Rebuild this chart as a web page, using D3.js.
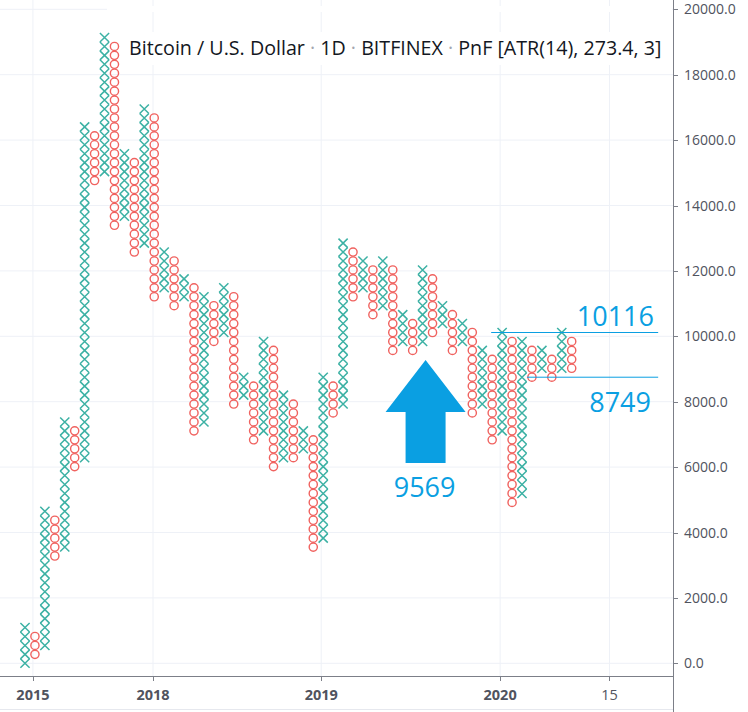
<!DOCTYPE html>
<html>
<head>
<meta charset="utf-8">
<script src="https://cdn.jsdelivr.net/npm/d3@7"></script>
<style>
  body { margin: 0; background: #fff; }
  svg { display: block; }
</style>
</head>
<body>
<svg id="pnf" width="748" height="712"></svg>
<script>
// Point & figure columns, in boxes of 273.4
const boxSize = 273.4;
const colTypes = ["X","O","X","O","X","O","X","O","X","O","X","O","X","O","X","O","X","O","X","O",
                  "X","O","X","O","X","O","X","O","X","O","X","O","X","O","X","O","X","O","X","O",
                  "X","O","X","O","X","O","X","O","X","O","X","O","X","O","X","O"];
const colHigh = [4,3,17,16,27,26,60,59,70,69,57,56,62,61,46,45,43,42,41,40,
                 42,41,32,31,36,35,30,29,26,25,32,31,47,46,45,44,45,44,39,38,
                 44,43,40,39,38,37,35,34,37,36,36,35,35,34,37,36];
const colLow  = [0,1,2,12,13,22,23,54,55,49,50,46,47,41,42,40,41,26,27,36,
                 37,29,30,25,26,22,23,23,24,13,14,28,29,41,42,39,40,35,36,35,
                 36,37,38,35,36,28,29,25,26,18,19,32,33,32,33,33];

// axis ticks
const priceTicks = [0, 2000, 4000, 6000, 8000, 10000, 12000, 14000, 16000, 18000, 20000];
const timeTickPos = [0.8, 12.88, 29.8, 47.8, 58.8];   // in column units
const timeTickLabels = ["2015", "2018", "2019", "2020", "15"];

// annotations
const levelValues = [10116, 8749];
const arrowValue = 9569;
const title = ["Bitcoin / U.S. Dollar", "1D", "BITFINEX", "PnF [ATR(14), 273.4, 3]"];

const svg = d3.select("#pnf");
const plotRight = 673, axisY = 676;

const x = d3.scaleLinear().domain([0, 55]).range([25, 571.7]);
const y = d3.scaleLinear().domain([0, 20000]).range([663.3, 9.3]);

const blue = "#0a9fe2";
const gridColor = "#eef1f7";
const axisColor = "#7c7f88";
const textColor = "#50535e";

// grid
svg.append("g").selectAll("line")
  .data(priceTicks).join("line")
  .attr("x1", 0).attr("x2", plotRight)
  .attr("y1", d => y(d)).attr("y2", d => y(d))
  .attr("stroke", gridColor).attr("stroke-width", 1);

svg.append("g").selectAll("line")
  .data(timeTickPos).join("line")
  .attr("x1", d => x(d)).attr("x2", d => x(d))
  .attr("y1", 0).attr("y2", axisY)
  .attr("stroke", gridColor).attr("stroke-width", 1);

// top line is hidden behind the legend area
svg.append("rect").attr("x", 107).attr("y", 6).attr("width", plotRight - 108).attr("height", 6).attr("fill", "#fff");

// build boxes
const boxes = [];
colTypes.forEach((t, i) => {
  for (let k = colLow[i]; k <= colHigh[i]; k++) {
    boxes.push({ col: i, type: t, price: k * boxSize });
  }
});

const marks = svg.append("g");
const hx = 4.6, hy = 4.5;

marks.selectAll("path.x")
  .data(boxes.filter(d => d.type === "X")).join("path")
  .attr("class", "x")
  .attr("d", d => {
    const cx = x(d.col), cy = y(d.price);
    return `M${cx - hx},${cy - hy}L${cx + hx},${cy + hy}M${cx + hx},${cy - hy}L${cx - hx},${cy + hy}`;
  })
  .attr("stroke", "#3cb1a4").attr("stroke-width", 1.5).attr("fill", "none");

marks.selectAll("circle.o")
  .data(boxes.filter(d => d.type === "O")).join("circle")
  .attr("class", "o")
  .attr("cx", d => x(d.col)).attr("cy", d => y(d.price)).attr("r", 4.1)
  .attr("stroke", "#f0625f").attr("stroke-width", 1.4).attr("fill", "none");

// title with white backing
const titleG = svg.append("g");
titleG.append("rect").attr("x", 122).attr("y", 32).attr("width", 546).attr("height", 33).attr("fill", "#fff");
const titleText = titleG.append("text")
  .attr("x", 129).attr("y", 55)
  .attr("font-family", "'Open Sans', sans-serif").attr("font-size", 17)
  .attr("fill", "#131722");
title.forEach((s, i) => {
  if (i > 0) titleText.append("tspan").attr("fill", "#a3a6af").text(" \u00b7 ");
  titleText.append("tspan").text(s);
});
// scale the font so the legend is as wide as in the original
const natural = titleText.node().getComputedTextLength();
titleText.attr("font-size", 17 * 533 / natural);

// level lines
svg.append("line")
  .attr("x1", x(46.9)).attr("x2", x(63.7))
  .attr("y1", y(levelValues[0])).attr("y2", y(levelValues[0]))
  .attr("stroke", blue).attr("stroke-width", 1);
svg.append("line")
  .attr("x1", x(50.5)).attr("x2", x(63.7))
  .attr("y1", y(levelValues[1])).attr("y2", y(levelValues[1]))
  .attr("stroke", blue).attr("stroke-width", 1);

svg.append("text")
  .attr("x", 654).attr("y", y(levelValues[0]) - 7)
  .attr("text-anchor", "end")
  .attr("font-family", "'Open Sans', sans-serif").attr("font-size", 27)
  .attr("fill", blue).text(levelValues[0]);
svg.append("text")
  .attr("x", 651).attr("y", y(levelValues[1]) + 35)
  .attr("text-anchor", "end")
  .attr("font-family", "'Open Sans', sans-serif").attr("font-size", 27)
  .attr("fill", blue).text(levelValues[1]);

// up arrow pointing at the breakout
const ax = x(40.3), ay = y(9275);
svg.append("path")
  .attr("d", `M${ax},${ay}L${ax + 40},${ay + 52}L${ax + 20},${ay + 52}L${ax + 20},${ay + 103}` +
             `L${ax - 20},${ay + 103}L${ax - 20},${ay + 52}L${ax - 40},${ay + 52}Z`)
  .attr("fill", blue);
svg.append("text")
  .attr("x", ax - 1).attr("y", ay + 137)
  .attr("text-anchor", "middle")
  .attr("font-family", "'Open Sans', sans-serif").attr("font-size", 27)
  .attr("fill", blue).text(arrowValue);

// axes
svg.append("line").attr("x1", plotRight + 0.5).attr("x2", plotRight + 0.5).attr("y1", 0).attr("y2", 712)
  .attr("stroke", axisColor).attr("stroke-width", 1);
svg.append("line").attr("x1", 0).attr("x2", plotRight).attr("y1", axisY + 0.5).attr("y2", axisY + 0.5)
  .attr("stroke", axisColor).attr("stroke-width", 1);
svg.append("line").attr("x1", 0).attr("x2", plotRight).attr("y1", 709.5).attr("y2", 709.5)
  .attr("stroke", "#e6e8ee").attr("stroke-width", 1);

const yAxis = svg.append("g");
yAxis.selectAll("line").data(priceTicks).join("line")
  .attr("x1", plotRight).attr("x2", plotRight + 5)
  .attr("y1", d => Math.round(y(d)) + 0.5).attr("y2", d => Math.round(y(d)) + 0.5)
  .attr("stroke", axisColor);
yAxis.selectAll("text").data(priceTicks).join("text")
  .attr("x", 684).attr("y", d => y(d)).attr("dy", "0.36em")
  .attr("font-family", "'Open Sans', sans-serif").attr("font-size", 14)
  .attr("fill", textColor)
  .text(d => d3.format(".1f")(d));

const xAxis = svg.append("g");
xAxis.selectAll("line").data(timeTickPos).join("line")
  .attr("x1", d => Math.round(x(d)) + 0.5).attr("x2", d => Math.round(x(d)) + 0.5)
  .attr("y1", axisY).attr("y2", axisY + 5)
  .attr("stroke", axisColor);
xAxis.selectAll("text").data(timeTickPos).join("text")
  .attr("x", d => x(d)).attr("y", 700)
  .attr("text-anchor", "middle")
  .attr("font-family", "'Open Sans', sans-serif").attr("font-size", 14.5)
  .attr("font-weight", (d, i) => timeTickLabels[i] === "15" ? "normal" : "bold")
  .attr("fill", textColor)
  .text((d, i) => timeTickLabels[i]);
</script>
</body>
</html>
